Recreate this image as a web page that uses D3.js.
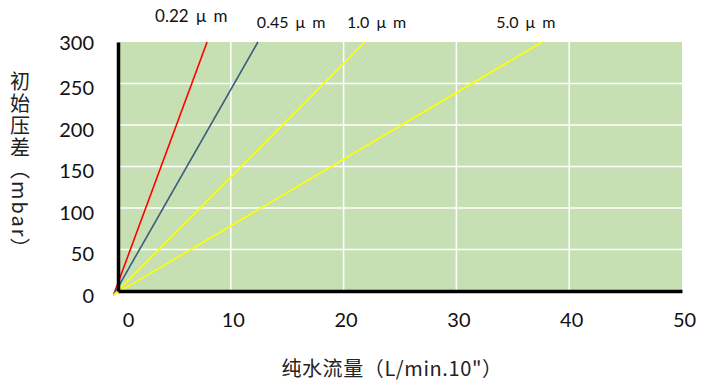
<!DOCTYPE html>
<html>
<head>
<meta charset="utf-8">
<script src="https://cdn.jsdelivr.net/npm/d3@7"></script>
<style>
  body { margin: 0; background: #fff; }
  svg { display: block; }
  .tick text { font-family: Lato, "Open Sans", sans-serif; font-size: 20px; fill: #111; }
  .cjk { font-family: "Noto Sans CJK SC", sans-serif; }
</style>
</head>
<body>
<div id="chart"></div>
<script>
// series: pore size, line start and end point (flow, pressure)
var series = ["0.22μm", "0.45μm", "1.0μm", "5.0μm"];
var labels = ["0.22 μ m", "0.45 μ m", "1.0 μ m", "5.0 μ m"];
var startFlow = [-0.4, -0.4, -0.4, -0.4];
var startPress = [-5, -5, -5, -5];
var endFlow = [7.9, 12.4, 21.9, 37.6];
var endPress = [300, 300, 300, 300];
var xTicks = [0, 10, 20, 30, 40, 50];
var yTicks = [0, 50, 100, 150, 200, 250, 300];

var colors = ["#ff0000", "#3b5a7e", "#ffff00", "#ffff00"];
// label placement (px, relative to top end of each line) and size
var labelDx = [-52, -1, -18, -46],
    labelDy = [-20, -14, -14, -14],
    labelSize = [17, 16, 16, 16];

var W = 706, H = 390;
var margin = { top: 42, right: 24, bottom: 99, left: 118 };
var width = W - margin.left - margin.right,
    height = H - margin.top - margin.bottom;

var svg = d3.select("#chart").append("svg")
    .attr("width", W)
    .attr("height", H);

var g = svg.append("g")
    .attr("transform", "translate(" + margin.left + "," + margin.top + ")");

var x = d3.scaleLinear().domain([0, 50]).range([0, width]);
var y = d3.scaleLinear().domain([0, 300]).range([height, 0]);

// plot background
g.append("rect")
    .attr("width", width)
    .attr("height", height)
    .attr("fill", "#c6e0b4");

// gridlines
g.append("g")
    .selectAll("line.gx")
    .data(xTicks.slice(1, -1))
    .join("line")
    .attr("x1", function (d) { return x(d); })
    .attr("x2", function (d) { return x(d); })
    .attr("y1", 0).attr("y2", height)
    .attr("stroke", "#fff").attr("stroke-width", 1.5);

g.append("g")
    .selectAll("line.gy")
    .data(yTicks.slice(1, -1))
    .join("line")
    .attr("y1", function (d) { return y(d); })
    .attr("y2", function (d) { return y(d); })
    .attr("x1", 0).attr("x2", width)
    .attr("stroke", "#fff").attr("stroke-width", 1.5);

// lines
var lineData = series.map(function (s, i) {
    return [[startFlow[i], startPress[i]], [endFlow[i], endPress[i]]];
});
var line = d3.line()
    .x(function (d) { return x(d[0]); })
    .y(function (d) { return y(d[1]); });

g.append("g")
    .selectAll("path")
    .data(lineData)
    .join("path")
    .attr("d", line)
    .attr("fill", "none")
    .attr("stroke", function (d, i) { return colors[i]; })
    .attr("stroke-width", 1.6);

// axes (black frame on left and bottom)
var xAxis = g.append("g")
    .attr("transform", "translate(0," + height + ")")
    .call(d3.axisBottom(x).tickValues(xTicks).tickSize(0).tickPadding(22));
xAxis.select(".domain").attr("stroke", "#000").attr("stroke-width", 3.5);
xAxis.selectAll(".tick text")
    .attr("dx", function (d) { return d === 0 ? 10 : 2; });

var yAxis = g.append("g")
    .call(d3.axisLeft(y).tickValues(yTicks).tickSize(0).tickPadding(24));
yAxis.select(".domain").attr("stroke", "#000").attr("stroke-width", 3.5);
yAxis.selectAll(".tick text")
    .attr("dy", function (d) { return d === 300 ? "0.35em" : "0.55em"; });

// series labels above the plot
g.append("g")
    .selectAll("text")
    .data(labels)
    .join("text")
    .attr("x", function (d, i) { return x(endFlow[i]) + labelDx[i]; })
    .attr("y", function (d, i) { return y(endPress[i]) + labelDy[i]; })
    .attr("font-family", "Lato, 'Open Sans', sans-serif")
    .attr("font-size", function (d, i) { return labelSize[i]; })
    .attr("word-spacing", 3)
    .attr("fill", "#111")
    .text(function (d) { return d; });

// axis titles
svg.append("text")
    .attr("class", "cjk")
    .attr("x", 392)
    .attr("y", 376)
    .attr("text-anchor", "middle")
    .attr("font-size", 20)
    .attr("letter-spacing", 0.6)
    .attr("fill", "#222")
    .text("纯水流量（L/min.10\"）");

svg.append("text")
    .attr("class", "cjk")
    .attr("x", 20)
    .attr("y", 71)
    .attr("font-size", 20)
    .attr("letter-spacing", 2)
    .attr("fill", "#222")
    .style("writing-mode", "vertical-rl")
    .style("text-orientation", "mixed")
    .text("初始压差（mbar）");
</script>
</body>
</html>
